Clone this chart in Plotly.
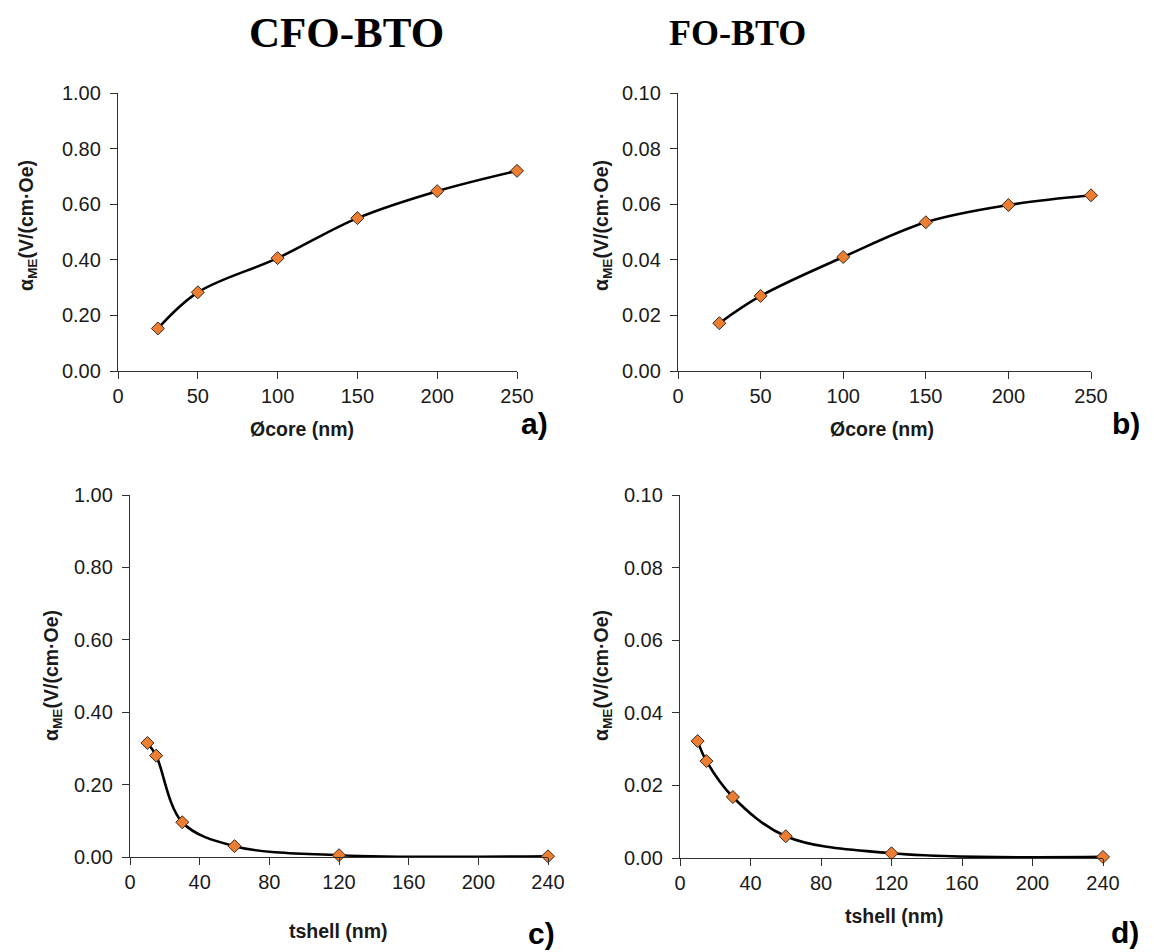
import plotly.graph_objects as go

# ---- data ----
core_nm = [25, 50, 100, 150, 200, 250]
cfo_core = [0.153, 0.283, 0.406, 0.550, 0.647, 0.720]
fo_core = [0.0172, 0.0270, 0.0410, 0.0535, 0.0597, 0.0632]

shell_nm = [10, 15, 30, 60, 120, 240]
cfo_shell = [0.315, 0.280, 0.096, 0.030, 0.005, 0.002]
fo_shell = [0.0322, 0.0267, 0.0168, 0.0060, 0.0013, 0.0003]

titles = ["CFO-BTO", "FO-BTO"]
panel_labels = ["a)", "b)", "c)", "d)"]
x_titles = ["Øcore (nm)", "Øcore (nm)", "tshell (nm)", "tshell (nm)"]
y_title = "α<sub>ME</sub>(V/(cm·Oe)"

W, H = 1154, 952

def px(x):
    return x / W

def py(y):
    return 1 - y / H

fig = go.Figure()

panels = [
    # (xdata, ydata, xaxis, yaxis, x_px, y_px, xrange, xdtick, yrange, ydtick)
    (core_nm, cfo_core, "x", "y", (118, 517), (371, 93), [0, 250], 50, [0, 1.0], 0.2),
    (core_nm, fo_core, "x2", "y2", (678, 1091), (371, 93), [0, 250], 50, [0, 0.1], 0.02),
    (shell_nm, cfo_shell, "x3", "y3", (130, 548), (857, 495), [0, 240], 40, [0, 1.0], 0.2),
    (shell_nm, fo_shell, "x4", "y4", (680, 1103), (858, 495), [0, 240], 40, [0, 0.1], 0.02),
]

tick_font = dict(family="Liberation Sans, Arial, sans-serif", size=20, color="#1a1a1a")
axis_col = "#303030"

for i, (xd, yd, xa, ya, xp, yp, xr, xdt, yr, ydt) in enumerate(panels):
    fig.add_trace(go.Scatter(
        x=xd, y=yd, xaxis=xa, yaxis=ya, mode="lines+markers",
        line=dict(color="black", width=2.6, shape="spline", smoothing=1.0),
        marker=dict(symbol="diamond", size=10, color="#ED7D31",
                    line=dict(color="#3b2a1e", width=1)),
        cliponaxis=False, showlegend=False,
    ))
    n = "" if i == 0 else str(i + 1)
    fig.layout["xaxis" + n] = dict(
        domain=[px(xp[0]), px(xp[1])], anchor=ya, range=xr, dtick=xdt, tick0=0,
        showgrid=False, zeroline=False, showline=True, linecolor=axis_col, linewidth=1.3,
        ticks="outside", ticklen=7, tickcolor=axis_col, tickwidth=1.3,
        tickfont=tick_font, fixedrange=True, automargin=False,
    )
    fig.layout["yaxis" + n] = dict(
        domain=[py(yp[0]), py(yp[1])], anchor=xa, range=yr, dtick=ydt, tick0=0,
        tickformat=".2f",
        showgrid=False, zeroline=False, showline=True, linecolor=axis_col, linewidth=1.3,
        ticks="outside", ticklen=7, tickcolor=axis_col, tickwidth=1.3,
        ticklabelstandoff=5,
        tickfont=tick_font, fixedrange=True, automargin=False,
    )

annots = []
# column titles
annots.append(dict(x=px(346), y=py(33), text="<b>" + titles[0] + "</b>",
                   font=dict(family="Liberation Serif, Times New Roman, serif", size=43, color="black")))
annots.append(dict(x=px(737), y=py(33), text="<b>" + titles[1] + "</b>",
                   font=dict(family="Liberation Serif, Times New Roman, serif", size=36, color="black")))

lab_font = dict(family="Liberation Sans, Arial, sans-serif", size=30, color="black")
ax_font = dict(family="Liberation Sans, Arial, sans-serif", size=19.5, color="#1a1a1a")

# x-axis titles
xt_pos = [(302, 429), (882, 429), (338, 931), (894, 916)]
for t, (x, y) in zip(x_titles, xt_pos):
    annots.append(dict(x=px(x), y=py(y), text="<b>" + t + "</b>", font=ax_font))

# y-axis titles
yt_pos = [(27, 226), (602, 226), (52, 676), (602, 676)]
for (x, y) in yt_pos:
    annots.append(dict(x=px(x), y=py(y), text="<b>" + y_title + "</b>", textangle=-90, font=ax_font))

# panel labels
pl_pos = [(534, 423), (1126, 423), (541, 933), (1125, 932)]
for t, (x, y) in zip(panel_labels, pl_pos):
    annots.append(dict(x=px(x), y=py(y), text="<b>" + t + "</b>", font=lab_font))

for a in annots:
    a.update(xref="paper", yref="paper", showarrow=False, xanchor="center", yanchor="middle")

fig.update_layout(
    width=W, height=H, margin=dict(l=0, r=0, t=0, b=0),
    paper_bgcolor="white", plot_bgcolor="white",
    annotations=annots,
)

fig.write_html("out.html")
